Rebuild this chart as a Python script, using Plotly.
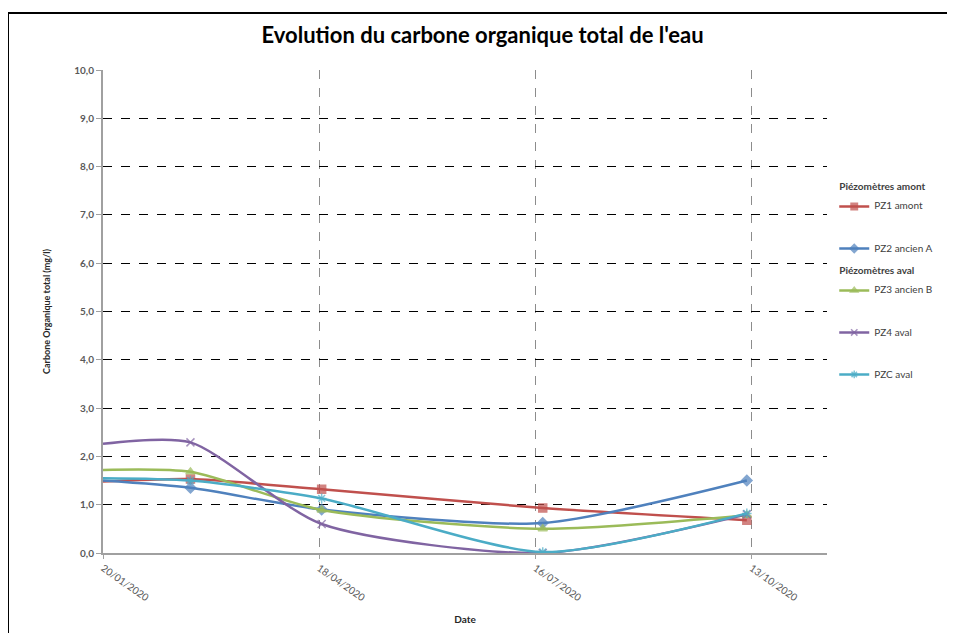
import plotly.graph_objects as go

# sampling dates (first one sits on the axis origin)
dates = ["2020-01-20", "2020-02-25", "2020-04-19", "2020-07-19", "2020-10-11"]

pz1_amont = [1.48, 1.53, 1.32, 0.93, 0.68]
pz2_ancien_a = [1.50, 1.35, 0.90, 0.62, 1.50]
pz3_ancien_b = [1.72, 1.68, 0.89, 0.50, 0.78]
pz4_aval = [2.26, 2.29, 0.60, 0.00, 0.80]
pzc_aval = [1.55, 1.50, 1.13, 0.02, 0.82]

y_ticks = [0, 1, 2, 3, 4, 5, 6, 7, 8, 9, 10]

series = [
    ("PZ1 amont", pz1_amont, "#C0504D", "square", "amont", "Piézomètres amont"),
    ("<br><br>PZ2 ancien A", pz2_ancien_a, "#4F81BD", "diamond", "amont", "Piézomètres amont"),
    ("PZ3 ancien B", pz3_ancien_b, "#9BBB59", "triangle-up", "aval", "Piézomètres aval"),
    ("<br><br>PZ4 aval", pz4_aval, "#8064A2", "x-thin-open", "aval", "Piézomètres aval"),
    ("<br><br>PZC aval", pzc_aval, "#4BACC6", "asterisk-open", "aval", "Piézomètres aval"),
]

fig = go.Figure()
for name, values, color, symbol, group, group_title in series:
    # first point lies on the y axis; Excel hides its marker there
    sizes = [0] + [8] * (len(values) - 1)
    fig.add_trace(
        go.Scatter(
            x=dates,
            y=values,
            name=name,
            mode="lines+markers",
            line=dict(color=color, width=2.5, shape="spline", smoothing=0.7),
            marker=dict(
                symbol=symbol,
                size=sizes,
                color=color,
                line=dict(color=color, width=1.5),
            ),
            legendgroup=group,
            legendgrouptitle=dict(
                text=group_title,
                font=dict(family="Lato", size=10, color="#404040", weight="bold"),
            ),
        )
    )

font = "Lato"
# the page adds an 8px offset, margins are trimmed to compensate
fig.update_layout(
    width=955,
    height=633,
    paper_bgcolor="white",
    plot_bgcolor="white",
    separators=",.",
    margin=dict(l=95, r=136, t=62, b=88),
    title=dict(
        text="Evolution du carbone organique total de l'eau",
        x=0.497,
        xanchor="center",
        y=0.957,
        yanchor="middle",
        font=dict(family=font, size=22, color="#000000", weight="bold"),
    ),
    xaxis=dict(
        type="date",
        range=["2020-01-20", "2020-11-13"],
        tick0="2020-01-20",
        dtick=89 * 86400000,
        tickformat="%d/%m/%Y",
        tickangle=35,
        tickfont=dict(family=font, size=10, color="#595959"),
        showgrid=True,
        gridcolor="#8c8c8c",
        griddash="dash",
        gridwidth=1,
        showline=True,
        linecolor="#a0a0a0",
        linewidth=1.5,
        ticks="outside",
        ticklen=4,
        tickcolor="#a0a0a0",
        zeroline=False,
        title=dict(
            text="<b>Date</b>",
            font=dict(family=font, size=10, color="#262626"),
            standoff=14,
        ),
    ),
    yaxis=dict(
        range=[0, 10],
        tickvals=y_ticks,
        tickformat=".1f",
        tickfont=dict(family=font, size=10, color="#595959", weight="bold"),
        showgrid=True,
        gridcolor="#000000",
        griddash="dash",
        gridwidth=1,
        showline=True,
        linecolor="#a0a0a0",
        linewidth=2,
        ticks="outside",
        ticklen=5,
        tickcolor="#a0a0a0",
        zeroline=False,
        title=dict(
            text="<b>Carbone Organique total (mg/l)</b>",
            font=dict(family=font, size=9, color="#262626"),
            standoff=22,
        ),
    ),
    legend=dict(
        x=1.01,
        xanchor="left",
        y=0.79,
        yanchor="top",
        valign="bottom",
        tracegroupgap=4,
        font=dict(family=font, size=10, color="#404040"),
        bgcolor="rgba(0,0,0,0)",
        itemwidth=30,
    ),
    shapes=[
        dict(
            type="rect",
            xref="paper",
            yref="paper",
            x0=(8 - 103) / 724,
            x1=(975 - 103) / 724,
            y0=-0.2,
            y1=(553 - 13) / 483,
            line=dict(color="#000000", width=2),
            fillcolor="rgba(0,0,0,0)",
            layer="below",
        )
    ],
)

fig.write_html("out.html")
